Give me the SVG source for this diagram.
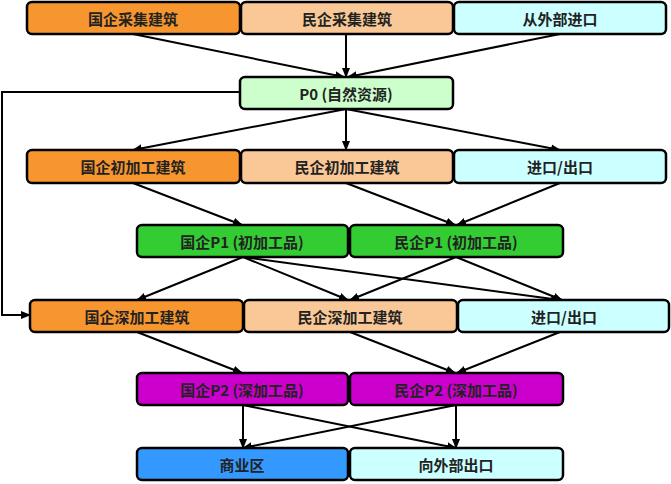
<svg xmlns="http://www.w3.org/2000/svg" width="671" height="484" viewBox="0 0 671 484">
<style>
rect{stroke:#000;stroke-width:2.5}
text{font-family:"Noto Sans CJK SC","DejaVu Sans",sans-serif;font-size:15px;font-weight:bold;text-anchor:middle;dominant-baseline:central;fill:#222}
.c line,.c path{stroke:#000;stroke-width:2;fill:none;marker-end:url(#a)}
.o{fill:#F7962F}.p{fill:#FAC896}.l{fill:#CCFFFF}.g0{fill:#CCFFCC}.g{fill:#33CC33}.m{fill:#CC00CC}.b{fill:#3399FF}
</style>
<defs><marker id="a" viewBox="0 0 10 10" refX="9" refY="5" markerWidth="5" markerHeight="5" orient="auto"><path d="M0,1L10,5L0,9z" fill="#000"/></marker></defs>
<g class="c">
<line x1="133" y1="34" x2="344" y2="77"/><line x1="346" y1="34" x2="346" y2="77"/><line x1="560" y1="34" x2="348" y2="77"/>
<line x1="346" y1="109" x2="133" y2="150"/><line x1="346" y1="109" x2="346" y2="150"/><line x1="346" y1="109" x2="560" y2="150"/>
<line x1="133" y1="183" x2="242" y2="225"/><line x1="346" y1="183" x2="455" y2="225"/><line x1="560" y1="183" x2="457" y2="225"/>
<path d="M240,92H2V315H30"/>
<line x1="243" y1="257" x2="137" y2="300"/><line x1="243" y1="257" x2="348" y2="300"/><line x1="243" y1="257" x2="560" y2="300"/>
<line x1="456" y1="257" x2="350" y2="300"/><line x1="456" y1="257" x2="562" y2="300"/>
<line x1="137" y1="332" x2="242" y2="373"/><line x1="350" y1="332" x2="455" y2="373"/><line x1="560" y1="332" x2="457" y2="373"/>
<line x1="243" y1="405" x2="243" y2="448"/><line x1="243" y1="405" x2="456" y2="448"/><line x1="456" y1="405" x2="243" y2="448"/><line x1="456" y1="405" x2="456" y2="448"/>
</g>
<g id="n1"><rect class="o" x="27" y="2" width="213" height="32" rx="5"/><text x="133" y="18">国企采集建筑</text></g>
<g id="n2"><rect class="p" x="241" y="2" width="212" height="32" rx="5"/><text x="347" y="18">民企采集建筑</text></g>
<g id="n3"><rect class="l" x="454" y="2" width="212" height="32" rx="5"/><text x="560" y="18">从外部进口</text></g>
<g id="n4"><rect class="g0" x="240" y="77" width="213" height="32" rx="5"/><text x="346" y="93">P0 (自然资源)</text></g>
<g id="n5"><rect class="o" x="27" y="150" width="213" height="33" rx="5"/><text x="133" y="166">国企初加工建筑</text></g>
<g id="n6"><rect class="p" x="241" y="150" width="212" height="33" rx="5"/><text x="347" y="166">民企初加工建筑</text></g>
<g id="n7"><rect class="l" x="454" y="150" width="212" height="33" rx="5"/><text x="560" y="166">进口/出口</text></g>
<g id="n8"><rect class="g" x="137" y="225" width="211" height="32" rx="5"/><text x="242" y="241">国企P1 (初加工品)</text></g>
<g id="n9"><rect class="g" x="350" y="225" width="213" height="32" rx="5"/><text x="456" y="241">民企P1 (初加工品)</text></g>
<g id="n10"><rect class="o" x="30" y="300" width="213" height="32" rx="5"/><text x="137" y="316">国企深加工建筑</text></g>
<g id="n11"><rect class="p" x="244" y="300" width="213" height="32" rx="5"/><text x="350" y="316">民企深加工建筑</text></g>
<g id="n12"><rect class="l" x="458" y="300" width="211" height="32" rx="5"/><text x="564" y="316">进口/出口</text></g>
<g id="n13"><rect class="m" x="137" y="373" width="211" height="32" rx="5"/><text x="242" y="389">国企P2 (深加工品)</text></g>
<g id="n14"><rect class="m" x="350" y="373" width="213" height="32" rx="5"/><text x="456" y="389">民企P2 (深加工品)</text></g>
<g id="n15"><rect class="b" x="137" y="448" width="211" height="32" rx="5"/><text x="242" y="464">商业区</text></g>
<g id="n16"><rect class="l" x="350" y="448" width="213" height="32" rx="5"/><text x="456" y="464">向外部出口</text></g>
</svg>
